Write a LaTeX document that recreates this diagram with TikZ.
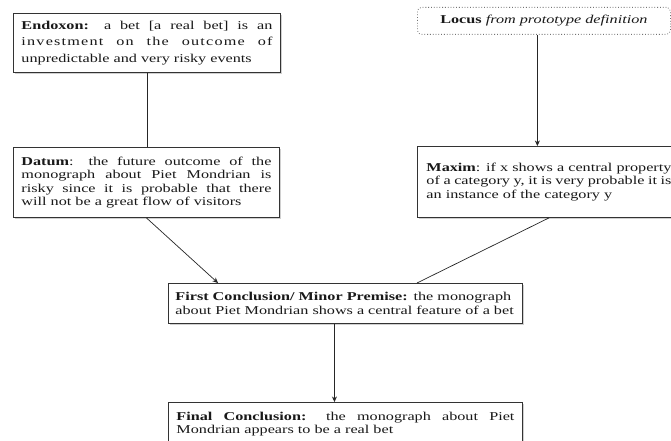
\documentclass[tikz,border=0pt]{standalone}
\usepackage{fontspec}
\setmainfont{Liberation Serif}[FakeStretch=1.35]
\usetikzlibrary{arrows.meta, positioning, shadows}

\tikzset{
  argbox/.style={draw=black!80, line width=0.9bp, fill=white, anchor=north west,
    inner xsep=8bp, align=justify, text=black!90,
    font=\fontsize{12bp}{13.3bp}\selectfont,
    drop shadow={shadow xshift=1.2bp, shadow yshift=-1.2bp, opacity=0.3, fill=black!60}},
  locusbox/.style={draw=black!55, dotted, line width=0.8bp, rounded corners=4bp,
    anchor=north west, inner sep=0pt, text=black!90,
    font=\fontsize{12bp}{13.3bp}\selectfont},
  link/.style={draw=black!85, line width=0.7bp},
}

\begin{document}
\begin{tikzpicture}[x=1bp, y=-1bp, >={Stealth[length=5.5bp, width=5bp]}]
    \useasboundingbox (0,0) rectangle (671,441);
    \fill[white] (0,0) rectangle (671,441);
    \clip (0,0) rectangle (671,441);

    % Premises
    \node[argbox, text width=251bp, minimum height=59bp,
      font=\fontsize{12bp}{16.7bp}\selectfont] (endoxon) at (13,13)
      {\textbf{Endoxon:} a bet [a real bet] is an\linebreak {\addfontfeature{LetterSpace=10}investment on the outcome of}\linebreak unpredictable and very risky events};
    \node[locusbox, minimum width=253bp, minimum height=27bp] (locus) at (417,7)
      {\textbf{Locus} \textit{from prototype definition}};
    \node[argbox, text width=250bp, minimum height=70bp] (datum) at (13,147)
      {\textbf{Datum}: the future outcome of the\linebreak monograph about Piet Mondrian is\linebreak risky since it is probable that there\linebreak will not be a great flow of visitors};
    \node[argbox, text width=245bp, inner xsep=9bp, minimum height=71bp] (maxim) at (417,146)
      {\textbf{Maxim}: if x shows a central property\linebreak of a category y, it is very probable it is\linebreak an instance of the category y};

    % Conclusions
    \node[argbox, text width=340bp, inner xsep=7bp, minimum height=40bp, align=left] (fc) at (168,283)
      {\textbf{First Conclusion/ Minor Premise:} the monograph\\ about Piet Mondrian shows a central feature of a bet};
    \node[argbox, text width=338bp, minimum height=43bp] (final) at (168,402)
      {\textbf{Final Conclusion:} the monograph about Piet\linebreak Mondrian appears to be a real bet};

    % Links
    \draw[link] (endoxon.south) -- (endoxon.south |- datum.north);
    \draw[link, ->] ([xshift=-6.5bp]locus.south) -- ([xshift=-6.5bp]locus.south |- maxim.north);
    \draw[link, ->] (datum.south) -- ([xshift=50bp]fc.north west);
    \draw[link] (maxim.south) -- ([xshift=249bp]fc.north west);
    \draw[link, ->] ([xshift=-11bp]fc.south) -- ([xshift=-11bp]fc.south |- final.north);
\end{tikzpicture}
\end{document}
